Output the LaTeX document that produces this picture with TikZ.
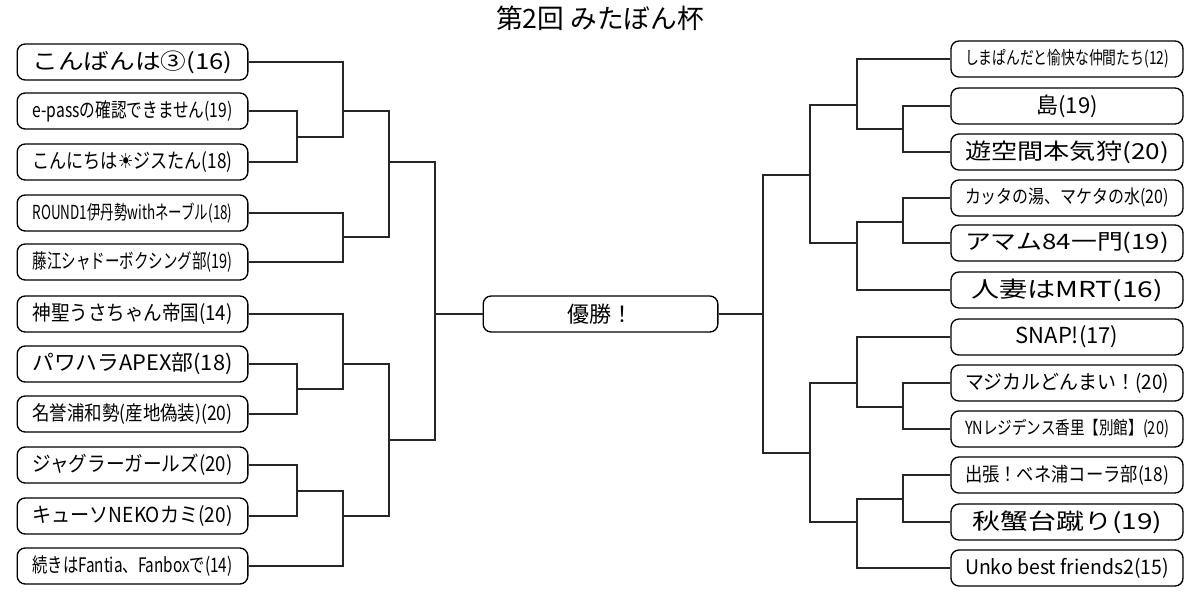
\documentclass[tikz,border=0pt]{standalone}
\usepackage{fontspec}
\usepackage{graphicx}
\setmainfont{Noto Sans CJK JP}
\newfontfamily\symf{DejaVu Sans}
\newcommand\fw[3]{\resizebox{\dimexpr0.75pt*#1\relax}{\height}{\fontsize{#2}{#2}\selectfont #3}}
\begin{document}
\begin{tikzpicture}[x=0.75pt,y=-0.75pt,
  team/.style={draw,line width=1pt,rounded corners=6pt,minimum height=27pt,inner sep=0pt,anchor=center},
  lteam/.style={team,minimum width=173pt},
  rteam/.style={team,minimum width=174pt},
  link/.style={line width=1pt,draw=black!85}]
\useasboundingbox (0,0) rectangle (1199,611);
\node at (600,18) {\fontsize{20}{20}\selectfont 第2回 みたぼん杯};
% left
\node[lteam] (L1) at (132.5,62) {\fw{200}{16.5}{こんばんは③(16)}};
\node[lteam] (L2) at (132.5,111) {\fw{200}{15}{e-passの確認できません(19)}};
\node[lteam] (L3) at (132.5,162) {\fw{200}{15.5}{こんにちは{\symf ☀}ジスたん(18)}};
\node[lteam] (L4) at (132.5,213) {\fw{200}{14.5}{ROUND1伊丹勢withネーブル(18)}};
\node[lteam] (L5) at (132.5,262) {\fw{200}{15}{藤江シャドーボクシング部(19)}};
\node[lteam] (L6) at (132.5,314) {\fw{200}{15.5}{神聖うさちゃん帝国(14)}};
\node[lteam] (L7) at (132.5,364) {\fw{200}{16}{パワハラAPEX部(18)}};
\node[lteam] (L8) at (132.5,414) {\fw{200}{15}{名誉浦和勢(産地偽装)(20)}};
\node[lteam] (L9) at (132.5,465) {\fw{200}{15.5}{ジャグラーガールズ(20)}};
\node[lteam] (L10) at (132.5,516) {\fw{200}{15.5}{キューソNEKOカミ(20)}};
\node[lteam] (L11) at (132.5,566) {\fw{200}{15}{続きはFantia、Fanboxで(14)}};
% winner
\node[team,minimum width=176pt] (W) at (600.5,314) {\fontsize{16.5}{16.5}\selectfont 優勝！};
% right
\node[rteam] (R1) at (1067,59) {\fw{204}{13.5}{しまぱんだと愉快な仲間たち(12)}};
\node[rteam] (R2) at (1067,106) {\fontsize{16.5}{16.5}\selectfont 島(19)};
\node[rteam] (R3) at (1067,152) {\fw{204}{16.5}{遊空間本気狩(20)}};
\node[rteam] (R4) at (1067,198) {\fw{204}{14}{カッタの湯、マケタの水(20)}};
\node[rteam] (R5) at (1067,243) {\fw{204}{16}{アマム84一門(19)}};
\node[rteam] (R6) at (1067,290) {\fw{192}{16.5}{人妻はMRT(16)}};
\node[rteam] (R7) at (1067,337) {\fontsize{16.5}{16.5}\selectfont SNAP!(17)};
\node[rteam] (R8) at (1067,383) {\fw{204}{15}{マジカルどんまい！(20)}};
\node[rteam] (R9) at (1067,429) {\fw{204}{13.5}{YNレジデンス香里【別館】(20)}};
\node[rteam] (R10) at (1067,475) {\fw{204}{14.5}{出張！ベネ浦コーラ部(18)}};
\node[rteam] (R11) at (1067,522) {\fw{190}{16.5}{秋蟹台蹴り(19)}};
\node[rteam] (R12) at (1067,568) {\fw{204}{15}{Unko best friends2(15)}};
% left junctions
\coordinate (a1) at (297,137); \coordinate (b1) at (343,111);
\coordinate (b2) at (343,237); \coordinate (c1) at (389,162);
\coordinate (a2) at (297,389); \coordinate (b3) at (343,364);
\coordinate (a3) at (297,491); \coordinate (b4) at (343,516);
\coordinate (c2) at (389,440); \coordinate (d1) at (435,314);
\draw[link] (L2.east) -| (a1); \draw[link] (L3.east) -| (a1);
\draw[link] (L1.east) -| (b1); \draw[link] (a1) -| (b1);
\draw[link] (L4.east) -| (b2); \draw[link] (L5.east) -| (b2);
\draw[link] (b1) -| (c1); \draw[link] (b2) -| (c1);
\draw[link] (L7.east) -| (a2); \draw[link] (L8.east) -| (a2);
\draw[link] (L6.east) -| (b3); \draw[link] (a2) -| (b3);
\draw[link] (L9.east) -| (a3); \draw[link] (L10.east) -| (a3);
\draw[link] (a3) -| (b4); \draw[link] (L11.east) -| (b4);
\draw[link] (b3) -| (c2); \draw[link] (b4) -| (c2);
\draw[link] (c1) -| (d1); \draw[link] (c2) -| (d1);
\draw[link] (d1) -- (W.west);
% right junctions
\coordinate (p1) at (903,129); \coordinate (q1) at (857,105);
\coordinate (p2) at (903,222); \coordinate (q2) at (857,243);
\coordinate (r1) at (810,175);
\coordinate (p3) at (903,407); \coordinate (q3) at (857,383);
\coordinate (p4) at (903,499); \coordinate (q4) at (857,522);
\coordinate (r2) at (810,453); \coordinate (s) at (763,314);
\draw[link] (R2.west) -| (p1); \draw[link] (R3.west) -| (p1);
\draw[link] (R1.west) -| (q1); \draw[link] (p1) -| (q1);
\draw[link] (R4.west) -| (p2); \draw[link] (R5.west) -| (p2);
\draw[link] (p2) -| (q2); \draw[link] (R6.west) -| (q2);
\draw[link] (q1) -| (r1); \draw[link] (q2) -| (r1);
\draw[link] (R8.west) -| (p3); \draw[link] (R9.west) -| (p3);
\draw[link] (R7.west) -| (q3); \draw[link] (p3) -| (q3);
\draw[link] (R10.west) -| (p4); \draw[link] (R11.west) -| (p4);
\draw[link] (p4) -| (q4); \draw[link] (R12.west) -| (q4);
\draw[link] (q3) -| (r2); \draw[link] (q4) -| (r2);
\draw[link] (r1) -| (s); \draw[link] (r2) -| (s);
\draw[link] (s) -- (W.east);
\end{tikzpicture}
\end{document}
